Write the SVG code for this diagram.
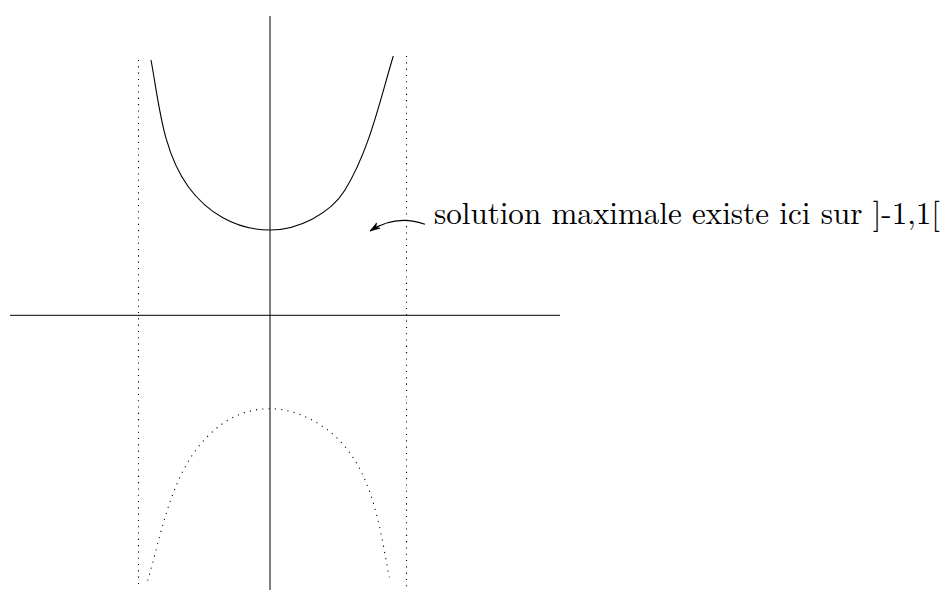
<svg xmlns="http://www.w3.org/2000/svg" width="948" height="590" viewBox="0 0 948 590">
<style>
.ax{stroke:#000;stroke-width:1;fill:none}
.cv{stroke:#000;stroke-width:1.1;fill:none}
.dot{stroke:#000;stroke-width:1.1;fill:none;stroke-dasharray:1.1 5.2}
.lbl{font-family:"Latin Modern Roman","Liberation Serif",serif;font-size:31px;fill:#000}
</style>
<defs>
<marker id="ah" markerUnits="userSpaceOnUse" markerWidth="14" markerHeight="10" refX="0" refY="0" viewBox="-12 -5 14 10" orient="auto">
<path d="M0,0 L-10,-3.2 L-7,0 L-10,3.2 Z" fill="#000" stroke="#000" stroke-width="0.6" stroke-linejoin="miter"/>
</marker>
</defs>
<rect width="948" height="590" fill="#fff"/>
<g id="axes">
<line class="ax" x1="270" y1="16" x2="270" y2="590"/>
<line class="ax" x1="10" y1="315.3" x2="560" y2="315.3"/>
</g>
<g id="asymptotes">
<line class="dot" x1="138.5" y1="60" x2="138.5" y2="588"/>
<line class="dot" x1="406.5" y1="56" x2="406.5" y2="588"/>
</g>
<g id="upper-curve">
<path class="cv" d="M151,60 C159,103 162.3,151 188.3,186.7 C206.6,211.8 235,230 270,230 C298,230 330.4,213.8 345,190 C369.4,150 379.7,101.1 393.3,56"/>
</g>
<g id="lower-curve">
<path class="dot" d="M147.7,580.7 C162.3,530.8 170.9,473.6 207.3,436.7 C224.8,419 245,408.7 270,408.7 C298,408.7 327.1,425.1 345,446.7 C374.4,482.1 380.6,532.2 389.3,577.3"/>
</g>
<g id="connectors">
<path class="cv" d="M425,224.3 Q396,214 370,231" marker-end="url(#ah)"/>
</g>
<g id="label">
<text class="lbl" x="434" y="223.5" textLength="506" lengthAdjust="spacingAndGlyphs">solution maximale existe ici sur ]-1,1[</text>
</g>
</svg>
